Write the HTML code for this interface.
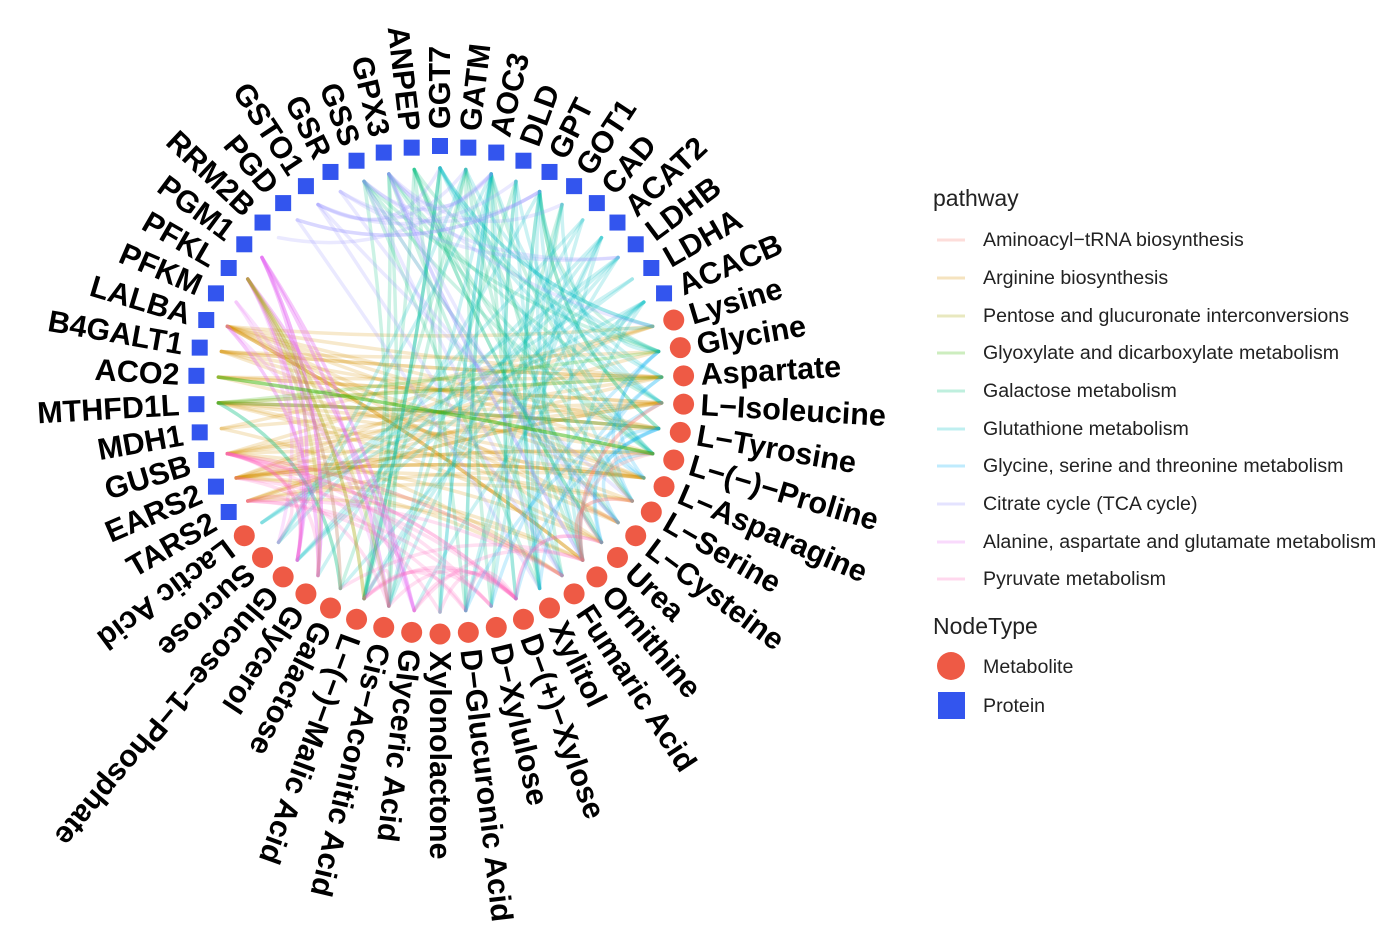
<!DOCTYPE html>
<html><head><meta charset="utf-8"><style>
body{margin:0;background:#fff;width:1396px;height:940px;overflow:hidden;font-family:"Liberation Sans",sans-serif}
</style></head><body>
<svg id="s" width="1396" height="940" xmlns="http://www.w3.org/2000/svg">
<g id="edges" fill="none" stroke-width="3.5" stroke-opacity="0.2" stroke-linecap="round"></g>
<g id="nodes"></g>
<g id="labels" font-family="Liberation Sans, sans-serif" font-weight="bold" font-size="30.5" fill="#000"></g>
<g font-family="Liberation Sans, sans-serif" font-size="19.6" fill="#222">
<text x="933" y="206" font-size="23">pathway</text>
<g stroke-width="3" stroke-opacity="0.25">
<line x1="937" y1="240" x2="965" y2="240" stroke="#F8766D"/>
<line x1="937" y1="278" x2="965" y2="278" stroke="#D89000"/>
<line x1="937" y1="316" x2="965" y2="316" stroke="#A3A500"/>
<line x1="937" y1="353" x2="965" y2="353" stroke="#39B600"/>
<line x1="937" y1="391" x2="965" y2="391" stroke="#00BF7D"/>
<line x1="937" y1="429" x2="965" y2="429" stroke="#00BFC4"/>
<line x1="937" y1="466" x2="965" y2="466" stroke="#00B0F6"/>
<line x1="937" y1="504" x2="965" y2="504" stroke="#9590FF"/>
<line x1="937" y1="542" x2="965" y2="542" stroke="#E76BF3"/>
<line x1="937" y1="579" x2="965" y2="579" stroke="#FF62BC"/>
</g>
<text x="983" y="246">Aminoacyl−tRNA biosynthesis</text>
<text x="983" y="284">Arginine biosynthesis</text>
<text x="983" y="322">Pentose and glucuronate interconversions</text>
<text x="983" y="359">Glyoxylate and dicarboxylate metabolism</text>
<text x="983" y="397">Galactose metabolism</text>
<text x="983" y="435">Glutathione metabolism</text>
<text x="983" y="472">Glycine, serine and threonine metabolism</text>
<text x="983" y="510">Citrate cycle (TCA cycle)</text>
<text x="983" y="548">Alanine, aspartate and glutamate metabolism</text>
<text x="983" y="585">Pyruvate metabolism</text>
<text x="933" y="634" font-size="23">NodeType</text>
<circle cx="951" cy="666" r="14" fill="#EE5A45"/>
<rect x="938" y="692" width="27" height="27" fill="#3355EE"/>
<text x="983" y="673">Metabolite</text>
<text x="983" y="712">Protein</text>
</g>
</svg>
<script>
var names=["GGT7","GATM","AOC3","DLD","GPT","GOT1","CAD","ACAT2","LDHB","LDHA","ACACB","Lysine","Glycine","Aspartate","L−Isoleucine","L−Tyrosine","L−(−)−Proline","L−Asparagine","L−Serine","L−Cysteine","Urea","Ornithine","Fumaric Acid","Xylitol","D−(+)−Xylose","D−Xylulose","D−Glucuronic Acid","Xylonolactone","Glyceric Acid","Cis−Aconitic Acid","L−(−)−Malic Acid","Galactose","Glycerol","Glucose−1−Phosphate","Sucrose","Lactic Acid","TARS2","EARS2","GUSB","MDH1","MTHFD1L","ACO2","B4GALT1","LALBA","PFKM","PFKL","PGM1","RRM2B","PGD","GSTO1","GSR","GSS","GPX3","ANPEP"];
var prot=function(i){return i<=10||i>=36};
var cx=440,cy=390,R=244,N=54,NS="http://www.w3.org/2000/svg";
function ang(i){return (-90+i*360/N)*Math.PI/180}
var nodes=document.getElementById("nodes"),labels=document.getElementById("labels"),edges=document.getElementById("edges");
for(var i=0;i<N;i++){var a=ang(i),x=cx+R*Math.cos(a),y=cy+R*Math.sin(a),e;
 if(prot(i)){e=document.createElementNS(NS,"rect");e.setAttribute("x",x-8);e.setAttribute("y",y-8);e.setAttribute("width",16);e.setAttribute("height",16);e.setAttribute("fill","#3355EE");}
 else{e=document.createElementNS(NS,"circle");e.setAttribute("cx",x);e.setAttribute("cy",y);e.setAttribute("r",10.5);e.setAttribute("fill","#EE5A45");}
 nodes.appendChild(e);
 var deg=-90+i*360/N,lx=cx+(R+17)*Math.cos(a),ly=cy+(R+17)*Math.sin(a),t=document.createElementNS(NS,"text");
 var flip=prot(i)&&Math.cos(a)<0;
 t.setAttribute("transform","translate("+lx+","+ly+") rotate("+(flip?deg+180:deg)+")");
 t.setAttribute("text-anchor",flip?"end":"start");t.setAttribute("dy","10");
 t.textContent=names[i];labels.appendChild(t);}
var seed=7;function rnd(){seed=(seed*16807)%2147483647;return seed/2147483647}
function pick(arr){return arr[Math.floor(rnd()*arr.length)]}
function range(a,b){var r=[];for(var k=a;k<=b;k++)r.push(k);return r}
var groups=[
 ["#D89000",[38,39,40,41,42,37,36,43],range(11,22),55],
 ["#00BF7D",range(0,5).concat([52,53,51,40]),range(12,31),40],
 ["#00BFC4",range(0,10),range(11,35),45],
 ["#9590FF",[47,48,49,50,51,52],range(0,12).concat(range(18,24)),22],
 ["#E76BF3",[43,44,45,46],range(28,35),20],
 ["#FF62BC",[36,37,38],range(22,34),14],
 ["#FF62BC",range(24,32),range(20,30),14],
 ["#00B0F6",range(12,16),range(17,26),12],
 ["#F8766D",range(13,19),range(17,21),8],
 ["#A3A500",[43,44,45],range(29,33),5],
 ["#39B600",[40,41],range(12,16),5]];
var Ri=222;
groups.forEach(function(g){for(var k=0;k<g[3];k++){var i=pick(g[1]),j=pick(g[2]);if(i==j)continue;
 var a1=ang(i),a2=ang(j),x1=cx+Ri*Math.cos(a1),y1=cy+Ri*Math.sin(a1),x2=cx+Ri*Math.cos(a2),y2=cy+Ri*Math.sin(a2);
 var mx=(x1+x2)/2,my=(y1+y2)/2,f=0.3;
 var qx=mx+(cx-mx)*f,qy=my+(cy-my)*f;
 var p=document.createElementNS(NS,"path");p.setAttribute("d","M"+x1+","+y1+" Q"+qx+","+qy+" "+x2+","+y2);p.setAttribute("stroke",g[0]);edges.appendChild(p);}});
</script>
</body></html>
